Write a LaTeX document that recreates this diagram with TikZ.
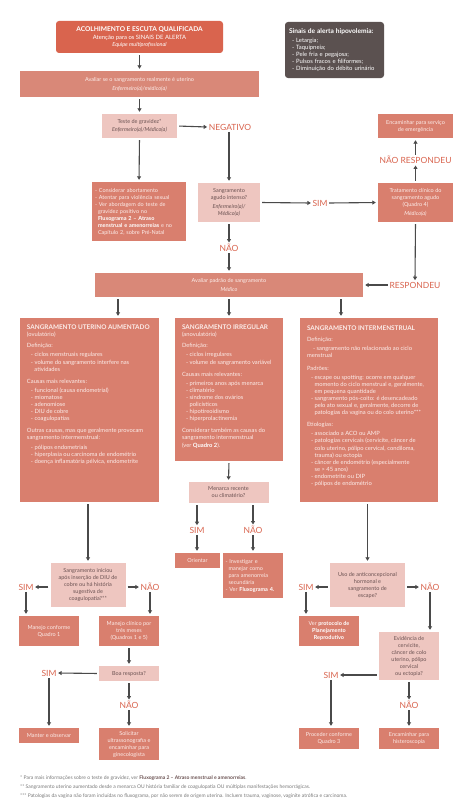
\documentclass[tikz,border=0pt]{standalone}
\usepackage{fontspec}
\setmainfont{Lato}
\usetikzlibrary{arrows.meta}
\definecolor{cRed}{HTML}{D9644E}
\definecolor{cSal}{HTML}{D98878}
\definecolor{cBox}{HTML}{D97F6E}
\definecolor{cPink}{HTML}{EEC6C0}
\definecolor{cDark}{HTML}{5B5150}
\definecolor{cArrow}{HTML}{4A4A4A}
\definecolor{cTxtP}{HTML}{6B5252}
\definecolor{cWhite}{HTML}{FCEDEA}
\definecolor{cFoot}{HTML}{7A7A7A}
\newcommand\fsb{\fontsize{5.5}{7}\selectfont}
\newcommand\fcol{\fontsize{5.8}{7.1}\selectfont}
\newcommand\ttlfont{\bfseries\fontsize{6.4}{7.2}\selectfont}
\newcommand\litem{\hspace*{4pt}- }
\newcommand\lcont{\hspace*{7.5pt}}
\tikzset{
  base/.style={rectangle, inner sep=2pt, align=center, font=\fsb},
  redbox/.style={base, fill=cRed, text=white},
  salbox/.style={base, fill=cSal, text=cWhite},
  obox/.style={base, fill=cBox, text=cWhite},
  pinkbox/.style={base, fill=cPink, text=cTxtP},
  coltext/.style={inner sep=0pt, align=left, font=\fcol, text=cWhite, anchor=north west},
  lbl/.style={text=cRed, font=\fontsize{8.5}{10}\selectfont, inner sep=1.5pt},
  arr/.style={draw=cArrow, line width=1.1pt, -{Triangle[length=3.5pt,width=4pt]}, shorten <=2pt, shorten >=2pt},
  arrl/.style={draw=cArrow, line width=1.1pt, -{Triangle[length=3.5pt,width=4pt]}}
}
\begin{document}
\begin{tikzpicture}[x=1pt,y=-1pt]
\fill[white] (0,0) rectangle (474,808);
\useasboundingbox (0,0) rectangle (474,808);

% top
\node[redbox, rounded corners=3pt, minimum width=167, minimum height=32] (top) at (139.5,37)
 {{\bfseries\fontsize{6.6}{8}\selectfont ACOLHIMENTO E ESCUTA QUALIFICADA}\\[1pt]
  {\fontsize{5.9}{7}\selectfont Atenção para os SINAIS DE ALERTA}\\
  {\itshape Equipe multiprofissional}};

\node[base, fill=cDark, text=white, rounded corners=3pt, minimum width=99, minimum height=56,
      text width=91, align=left, inner sep=4pt, font=\fontsize{5.9}{7}\selectfont] (alert) at (334.5,50)
 {{\bfseries\fontsize{6.6}{7}\selectfont Sinais de alerta hipovolemia:}\\[1.5pt]
  \hspace*{3pt}- Letargia;\\
  \hspace*{3pt}- Taquipneia;\\
  \hspace*{3pt}- Pele fria e pegajosa;\\
  \hspace*{3pt}- Pulsos fracos e filiformes;\\
  \hspace*{3pt}- Diminuição do débito urinário};

\node[salbox, minimum width=239, minimum height=26] (aval) at (139.5,84)
 {Avaliar se o sangramento realmente é uterino\\[2pt] {\itshape Enfermeiro(a)/médico(a)}};

\node[pinkbox, minimum width=75, minimum height=24] (teste) at (139.5,126)
 {Teste de gravidez*\\[1pt] {\itshape Enfermeiro(a)/Médico(a)}};

\node[lbl] (neg) at (230,127) {NEGATIVO};

\node[obox, minimum width=94, minimum height=59, text width=88, inner sep=3pt, align=left] (consid) at (139,211.5)
 {- Considerar abortamento\\
  - Atentar para violência sexual\\
  - Ver abordagem do teste de\\
  \hspace*{3pt}gravidez positivo no\\
  \hspace*{3pt}{\bfseries\color{white}Fluxograma 2 – Atraso}\\
  \hspace*{3pt}{\bfseries\color{white}menstrual e amenorreias} e no\\
  \hspace*{3pt}Capítulo 2, sobre Pré-Natal};

\node[pinkbox, minimum width=62, minimum height=39] (sang) at (229,202.5)
 {Sangramento\\ agudo intenso?\\[2pt] {\itshape Enfermeiro(a)/}\\ {\itshape Médico(a)}};

\node[lbl] (sim1) at (320,203) {SIM};

\node[obox, minimum width=75, minimum height=39] (trat) at (415.5,202.5)
 {Tratamento clínico do\\ sangramento agudo\\ (Quadro 4)\\[2pt] {\itshape Médico(a)}};

\node[lbl] (nresp) at (415.5,160) {NÃO RESPONDEU};

\node[obox, minimum width=75, minimum height=24] (enc) at (415.5,126)
 {Encaminhar para serviço\\ de emergência};

\node[lbl] (nao1) at (229,248) {NÃO};

\node[salbox, minimum width=268, minimum height=24] (padrao) at (229,285)
 {Avaliar padrão de sangramento\\[2pt] {\itshape Médico}};

\node[lbl] (resp) at (415,285) {RESPONDEU};

% columns
\node[obox, minimum width=139, minimum height=184] (sua) at (89.5,410) {};
\node[coltext] (suat) at ([xshift=7pt,yshift=-7pt]sua.north west)
 {{\ttlfont SANGRAMENTO UTERINO AUMENTADO}\\
  (ovulatório)\\[4pt]
  Definição:\\[2pt]
  \litem ciclos menstruais regulares\\
  \litem volume do sangramento interfere nas\\
  \lcont atividades\\[5pt]
  Causas mais relevantes:\\[2pt]
  \litem funcional (causa endometrial)\\
  \litem miomatose\\
  \litem adenomiose\\
  \litem DIU de cobre\\
  \litem coagulopatias\\[5pt]
  Outras causas, mas que geralmente provocam\\
  sangramento intermenstrual:\\[2pt]
  \litem pólipos endometriais\\
  \litem hiperplasia ou carcinoma de endométrio\\
  \litem doença inflamatória pélvica, endometrite};

\node[obox, minimum width=108, minimum height=143] (irr) at (229,389.5) {};
\node[coltext] (irrt) at ([xshift=7pt,yshift=-7pt]irr.north west)
 {{\ttlfont SANGRAMENTO IRREGULAR}\\
  (anovulatório)\\[4pt]
  Definição:\\[2pt]
  \litem ciclos irregulares\\
  \litem volume de sangramento variável\\[5pt]
  Causas mais relevantes:\\[2pt]
  \litem primeiros anos após menarca\\
  \litem climatério\\
  \litem síndrome dos ovários\\
  \lcont policísticos\\
  \litem hipotireoidismo\\
  \litem hiperprolactinemia\\[5pt]
  Considerar também as causas do\\
  sangramento intermenstrual\\
  (ver {\bfseries\color{white}Quadro 2}).};

\node[obox, minimum width=138, minimum height=184] (inter) at (369,410) {};
\node[coltext] (intert) at ([xshift=7pt,yshift=-8pt]inter.north west)
 {{\ttlfont SANGRAMENTO INTERMENSTRUAL}\\[4pt]
  Definição:\\[2pt]
  \hspace*{6pt}- sangramento não relacionado ao ciclo\\
  menstrual\\[5pt]
  Padrões:\\[2pt]
  \litem escape ou spotting: ocorre em qualquer\\
  \lcont momento do ciclo menstrual e, geralmente,\\
  \lcont em pequena quantidade\\
  \litem sangramento pós-coito: é desencadeado\\
  \lcont pelo ato sexual e, geralmente, decorre de\\
  \lcont patologias da vagina ou do colo uterino***\\[5pt]
  Etiologias:\\[2pt]
  \litem associado a ACO ou AMP\\
  \litem patologias cervicais (cervicite, câncer de\\
  \lcont colo uterino, pólipo cervical, condiloma,\\
  \lcont trauma) ou ectopia\\
  \litem câncer de endométrio (especialmente\\
  \lcont se > 45 anos)\\
  \litem endometrite ou DIP\\
  \litem pólipos de endométrio};

% left branch
\node[pinkbox, minimum width=75, minimum height=44] (iniciou) at (88,585)
 {Sangramento iniciou\\ após inserção de DIU de\\ cobre ou há história\\ sugestiva de\\ coagulopatia?**};
\node[lbl] (sim3) at (26,587) {SIM};
\node[lbl] (nao3) at (150,587) {NÃO};
\node[obox, minimum width=60, minimum height=30] (manejo1) at (49,631) {Manejo conforme\\ Quadro 1};
\node[obox, minimum width=60, minimum height=30] (manejoc) at (129,631) {Manejo clínico por\\ três meses\\ (Quadros 1 e 5)};
\node[pinkbox, minimum width=60, minimum height=15] (boa) at (129,673.5) {Boa resposta?};
\node[lbl] (sim4) at (49,673) {SIM};
\node[lbl] (nao4) at (129,705) {NÃO};
\node[obox, minimum width=60, minimum height=15] (manter) at (49,735.5) {Manter e observar};
\node[obox, minimum width=60, minimum height=32] (solic) at (129,744) {Solicitar\\ ultrassonografia e\\ encaminhar para\\ ginecologista};

% middle branch
\node[pinkbox, minimum width=80, minimum height=21] (menarca) at (228.5,492.5) {Menarca recente\\ ou climatério?};
\node[lbl] (sim2) at (197,530) {SIM};
\node[lbl] (nao2) at (253,530) {NÃO};
\node[obox, minimum width=45, minimum height=15] (orient) at (197.5,560.5) {Orientar};
\node[obox, minimum width=60, minimum height=45, text width=55, inner sep=2pt, align=left] (invest) at (253,575.5)
 {- Investigar e\\ \hspace*{3pt}manejar como\\ \hspace*{3pt}para amenorreia\\ \hspace*{3pt}secundária\\ - Ver {\bfseries\color{white}Fluxograma 4.}};

% right branch
\node[pinkbox, minimum width=75, minimum height=44] (uso) at (367.5,585)
 {Uso de anticoncepcional\\ hormonal e\\ sangramento de\\ escape?};
\node[lbl] (sim5) at (306,587) {SIM};
\node[lbl] (nao5) at (430,587) {NÃO};
\node[obox, minimum width=60, minimum height=30] (ver) at (329,631)
 {Ver {\bfseries\color{white}protocolo de}\\ {\bfseries\color{white}Planejamento}\\ {\bfseries\color{white}Reprodutivo}};
\node[pinkbox, minimum width=60, minimum height=48] (evid) at (409,656)
 {Evidência de\\ cervicite,\\ câncer de colo\\ uterino, pólipo\\ cervical\\ ou ectopia?};
\node[lbl] (sim6) at (331,675) {SIM};
\node[lbl] (nao6) at (409,705) {NÃO};
\node[obox, minimum width=60, minimum height=21] (proc) at (329,738.5) {Proceder conforme\\ Quadro 3};
\node[obox, minimum width=60, minimum height=21] (histe) at (409,738.5) {Encaminhar para\\ histeroscopia};

% footnotes
\node[anchor=north west, align=left, inner sep=0pt, text=cFoot, font=\fontsize{5}{9}\selectfont] (foot) at (20,776)
 {* Para mais informações sobre o teste de gravidez, ver {\bfseries\color{cTxtP}Fluxograma 2 – Atraso menstrual e amenorreias}.\\
  ** Sangramento uterino aumentado desde a menarca OU história familiar de coagulopatia OU múltiplas manifestações hemorrágicas.\\
  *** Patologias da vagina não foram incluídas no fluxograma, por não serem de origem uterina. Incluem trauma, vaginose, vaginite atrófica e carcinoma.};

% arrows
\draw[arr] (top.south) -- (aval.north);
\draw[arr] (aval.south) -- (teste.north);
\draw[arrl, shorten <=2pt] (teste.east) -- (neg.west);
\draw[arr] (teste.south) -- (consid.north);
\draw[arrl, shorten >=2pt] (neg.south -| sang.north) -- (sang.north);
\draw[arrl, shorten <=2pt] (sang.east) -- (sim1.west);
\draw[arrl, shorten >=2pt] (sim1.east) -- (trat.west);
\draw[arrl, shorten <=2pt] (trat.north) -- (nresp.south);
\draw[arrl, shorten >=2pt] (nresp.north) -- (enc.south);
\draw[arrl, shorten <=2pt] (sang.south) -- (nao1.north);
\draw[arrl, shorten >=2pt] (nao1.south) -- (padrao.north);
\draw[arrl, shorten <=2pt] (trat.south) -- (resp.north);
\draw[arrl, shorten >=2pt] (resp.west) -- (padrao.east);
\draw[arr] (padrao.south -| 118,0) -- (sua.north -| 118,0);
\draw[arr] (padrao.south) -- (irr.north);
\draw[arr] (padrao.south -| 341,0) -- (inter.north -| 341,0);

\draw[arr] (sua.south -| iniciou.north) -- (iniciou.north);
\draw[arrl, shorten <=2pt] (iniciou.west |- sim3) -- (sim3.east);
\draw[arrl, shorten <=2pt] (iniciou.east |- nao3) -- (nao3.west);
\draw[arrl, shorten >=2pt] (sim3.south) -- (sim3.south |- manejo1.north);
\draw[arrl, shorten >=2pt] (nao3.south) -- (nao3.south |- manejoc.north);
\draw[arr] (manejoc.south) -- (boa.north);
\draw[arrl, shorten <=2pt] (boa.west) -- (sim4.east);
\draw[arrl, shorten >=2pt] (sim4.south) -- (manter.north);
\draw[arrl, shorten <=2pt] (boa.south) -- (nao4.north);
\draw[arrl, shorten >=2pt] (nao4.south) -- (solic.north);

\draw[arr] (irr.south) -- (menarca.north);
\draw[arrl, shorten <=2pt] (menarca.south -| sim2) -- (sim2.north);
\draw[arrl, shorten >=2pt] (sim2.south) -- (sim2.south |- orient.north);
\draw[arrl, shorten <=2pt] (menarca.south -| nao2) -- (nao2.north);
\draw[arrl, shorten >=2pt] (nao2.south) -- (invest.north);

\draw[arr] (inter.south -| uso.north) -- (uso.north);
\draw[arrl, shorten <=2pt] (uso.west |- sim5) -- (sim5.east);
\draw[arrl, shorten <=2pt] (uso.east |- nao5) -- (nao5.west);
\draw[arrl, shorten >=2pt] (sim5.south) -- (sim5.south |- ver.north);
\draw[arrl, shorten >=2pt] (nao5.south) -- (nao5.south |- evid.north);
\draw[arrl, shorten <=2pt] (evid.west |- sim6) -- (sim6.east);
\draw[arrl, shorten >=2pt] (sim6.south) -- (proc.north -| sim6.south);
\draw[arrl, shorten <=2pt] (evid.south) -- (nao6.north);
\draw[arrl, shorten >=2pt] (nao6.south) -- (histe.north);
\end{tikzpicture}
\end{document}
